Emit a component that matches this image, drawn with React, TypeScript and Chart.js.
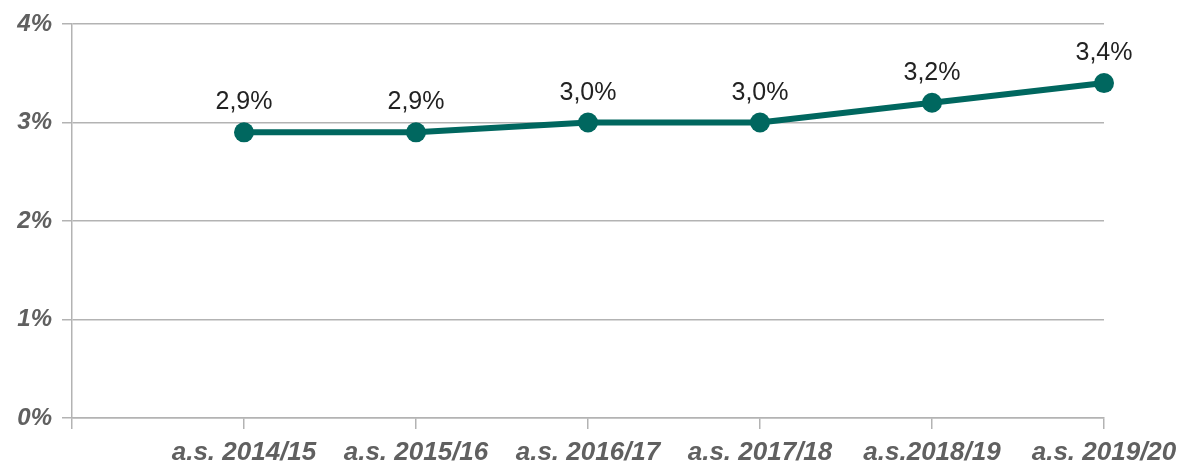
import React, { useEffect, useRef } from "react";
import { Chart, registerables } from "chart.js";

Chart.register(...registerables);

const categories = ["", "a.s. 2014/15", "a.s. 2015/16", "a.s. 2016/17", "a.s. 2017/18", "a.s.2018/19", "a.s. 2019/20"];
const values: (number | null)[] = [null, 2.9, 2.9, 3.0, 3.0, 3.2, 3.4];
const yTicks = [0, 1, 2, 3, 4];

const LINE = "#00675f";
const GRID = "#b3b3b3";
const AXIS_TEXT = "#606060";
const FONT = "'Liberation Sans', Arial, sans-serif";

const fmt = (v: number) => v.toFixed(1).replace(".", ",") + "%";

const labelPlugin = {
  id: "pointLabels",
  afterDatasetsDraw(chart: any) {
    const ctx = chart.ctx;
    const meta = chart.getDatasetMeta(0);
    ctx.save();
    ctx.font = `25px ${FONT}`;
    ctx.fillStyle = "#222222";
    ctx.textAlign = "center";
    ctx.textBaseline = "alphabetic";
    meta.data.forEach((el: any, i: number) => {
      const v = values[i];
      if (v === null || v === undefined) return;
      ctx.fillText(fmt(v), el.x, el.y - 23);
    });
    ctx.restore();
  },
};

export default function App() {
  const ref = useRef<HTMLCanvasElement | null>(null);
  useEffect(() => {
    if (!ref.current) return;
    const chart = new Chart(ref.current, {
      type: "line",
      data: {
        labels: categories,
        datasets: [
          {
            data: values,
            borderColor: LINE,
            backgroundColor: LINE,
            borderWidth: 6,
            pointRadius: 10,
            pointHoverRadius: 10,
            pointBackgroundColor: LINE,
            pointBorderWidth: 0,
            tension: 0,
            spanGaps: false,
          },
        ],
      },
      options: {
        animation: false,
        responsive: false,
        events: [],
        layout: { padding: { left: 0, right: 76, top: 24, bottom: 0 } },
        plugins: { legend: { display: false }, tooltip: { enabled: false } },
        scales: {
          x: {
            type: "category",
            offset: false,
            grid: {
              display: true,
              drawOnChartArea: false,
              drawTicks: true,
              tickLength: 11,
              color: GRID,
              lineWidth: 1.5,
            },
            border: { display: true, color: GRID, width: 1.5 },
            ticks: {
              autoSkip: false,
              maxRotation: 0,
              minRotation: 0,
              padding: 8,
              color: AXIS_TEXT,
              font: { family: FONT, size: 26, weight: "bold", style: "italic" },
            },
            afterFit(scale: any) {
              scale.height = 47;
              scale.paddingLeft = 0;
              scale.paddingRight = 0;
            },
          },
          y: {
            min: 0,
            max: 4,
            afterBuildTicks(scale: any) {
              scale.ticks = yTicks.map((v) => ({ value: v }));
            },
            grid: {
              display: true,
              drawTicks: true,
              tickLength: 10,
              color: GRID,
              lineWidth: 1.5,
            },
            border: { display: true, color: GRID, width: 1.5 },
            ticks: {
              padding: 10,
              color: AXIS_TEXT,
              font: { family: FONT, size: 24, weight: "bold", style: "italic" },
              callback: (v: any) => `${v}%`,
            },
            afterFit(scale: any) {
              scale.width = 72;
              scale.paddingTop = 0;
              scale.paddingBottom = 0;
            },
          },
        },
      },
      plugins: [labelPlugin],
    });
    return () => chart.destroy();
  }, []);
  return (
    <div style={{ position: "fixed", left: 0, top: 0, width: 1180, height: 465, background: "#fff" }}>
      <canvas ref={ref} width={1180} height={465} style={{ width: 1180, height: 465, display: "block" }} />
    </div>
  );
}
